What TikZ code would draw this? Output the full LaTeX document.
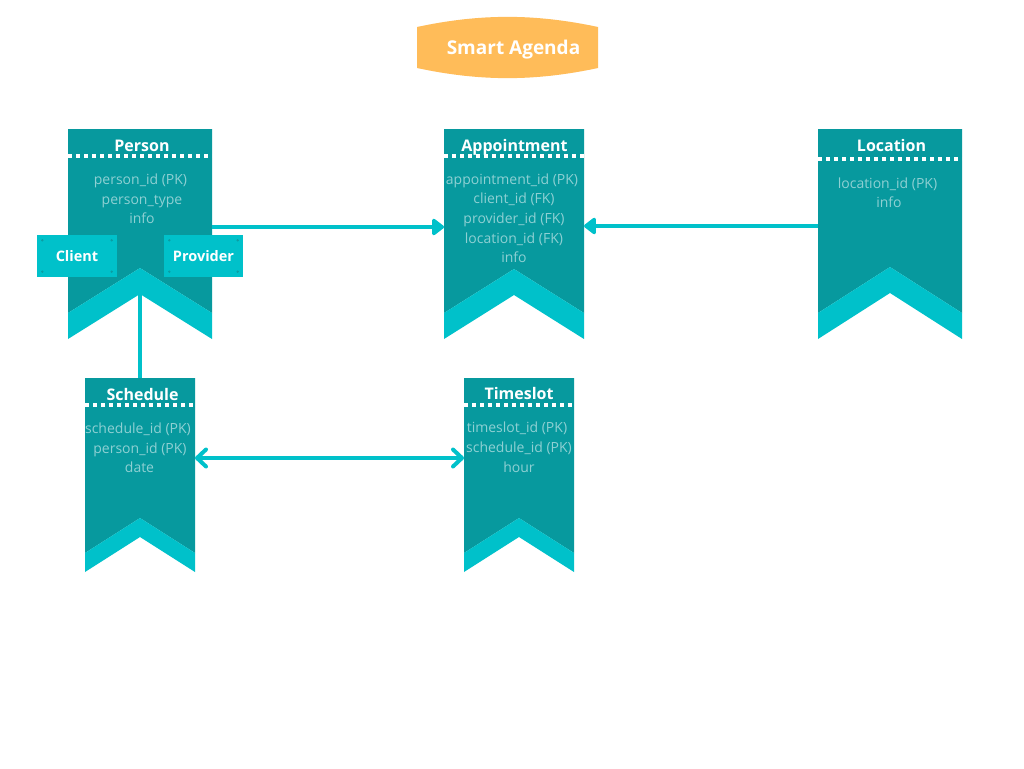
\documentclass[tikz,border=0pt]{standalone}
\usepackage{fontspec}
\setmainfont{Open Sans}
\usetikzlibrary{arrows.meta,calc}
\definecolor{ribdark}{HTML}{07999E}
\definecolor{riblight}{HTML}{00C1CA}
\definecolor{fieldtxt}{HTML}{8ED0D3}
\definecolor{titleorange}{HTML}{FFBC59}
\definecolor{boxdot}{HTML}{0B9DA3}
\newcommand\ribbonfill[3]{%
  \fill[ribdark] (#1.north west) -- (#1.north east) -- ([yshift=#2pt]#1.south east)
    -- ([yshift={(#2+#3)*1pt}]#1.south) -- ([yshift=#2pt]#1.south west) -- cycle;
  \fill[riblight] ([yshift=#2pt]#1.south west) -- ([yshift={(#2+#3)*1pt}]#1.south)
    -- ([yshift=#2pt]#1.south east) -- (#1.south east) -- ([yshift=#3pt]#1.south)
    -- (#1.south west) -- cycle;
}
\newcommand\dotrow[2]{%
  \draw[dotline] ([yshift=-#2pt]#1.north west) -- ([yshift=-#2pt]#1.north east);
}
\newcommand\boxdots[1]{%
  \fill[boxdot] ([shift={(5.5pt,-5.5pt)}]#1.north west) circle (1.3pt);
  \fill[boxdot] ([shift={(-5.5pt,-5.5pt)}]#1.north east) circle (1.3pt);
  \fill[boxdot] ([shift={(5.5pt,5.5pt)}]#1.south west) circle (1.3pt);
  \fill[boxdot] ([shift={(-5.5pt,5.5pt)}]#1.south east) circle (1.3pt);
}
\begin{document}
\begin{tikzpicture}[x=1pt,y=-1pt,
  ribbox/.style={draw=none,inner sep=0pt,outer sep=0pt,rectangle},
  ribtitle/.style={text=white,font=\fontsize{16}{18}\selectfont\bfseries,anchor=base,inner sep=0pt},
  field/.style={text=fieldtxt,font=\fontsize{14}{16}\selectfont,anchor=base,inner sep=0pt},
  dotline/.style={white,line width=4pt,dash pattern=on 4pt off 4pt},
  tagbox/.style={fill=riblight,minimum width=80pt,minimum height=42pt,inner sep=0pt,
    text=white,font=\fontsize{14.5}{16}\selectfont\bfseries},
  conn/.style={riblight,line width=4pt},
  tri/.style={-{Triangle[length=13pt,width=19pt,round]}},
  barbs/.style={{Straight Barb[length=9pt,width=17pt,round]}-{Straight Barb[length=9pt,width=17pt,round]}}
]
\useasboundingbox (0,0) rectangle (1024,768);
\fill[white] (0,0) rectangle (1024,768);

% title
\fill[titleorange] (417,27) .. controls (480,13.5) and (535,13.5) .. (598,27)
  -- (598,68) .. controls (535,81.5) and (480,81.5) .. (417,68) -- cycle;
\node[text=white,font=\fontsize{19}{21}\selectfont\bfseries,anchor=base,inner sep=0pt] (title) at (513.5,55) {Smart Agenda};

% ribbon frames
\node[ribbox,minimum width=144pt,minimum height=210pt] (person) at (140,234) {};
\node[ribbox,minimum width=140pt,minimum height=210pt] (appt) at (514,234) {};
\node[ribbox,minimum width=144pt,minimum height=210pt] (loc) at (890,234) {};
\node[ribbox,minimum width=110pt,minimum height=194pt] (sched) at (140,475) {};
\node[ribbox,minimum width=110pt,minimum height=194pt] (slot) at (519,475) {};

\ribbonfill{person}{26}{45}
\ribbonfill{appt}{26}{44}
\ribbonfill{loc}{26}{46}
\ribbonfill{sched}{19}{35}
\ribbonfill{slot}{19}{35}

\dotrow{person}{27}
\dotrow{appt}{27}
\dotrow{loc}{30}
\dotrow{sched}{27}
\dotrow{slot}{27}

% Person
\node[ribtitle] (personT) at (142,151.5) {Person};
\node[field] (p1) at (140.5,184) {person\_id (PK)};
\node[field] (p2) at (142,204) {person\_type};
\node[field] (p3) at (142,223) {info};
\node[tagbox] (client) at (77,256) {Client};
\node[tagbox,minimum width=79pt] (provider) at (203.5,256) {Provider};
\boxdots{client}
\boxdots{provider}

% Appointment
\node[ribtitle] (apptT) at (514.5,151.5) {Appointment};
\node[field] (a1) at (512,184) {appointment\_id (PK)};
\node[field] (a2) at (514,203.5) {client\_id (FK)};
\node[field] (a3) at (514,223) {provider\_id (FK)};
\node[field] (a4) at (514,243) {location\_id (FK)};
\node[field] (a5) at (514,262.5) {info};

% Location
\node[ribtitle] (locT) at (891.5,151.5) {Location};
\node[field] (l1) at (887.5,188) {location\_id (PK)};
\node[field] (l2) at (889,207.5) {info};

% Schedule
\node[ribtitle] (schedT) at (142.5,400) {Schedule};
\node[field] (s1) at (138,433) {schedule\_id (PK)};
\node[field] (s2) at (140,453) {person\_id (PK)};
\node[field] (s3) at (139.5,472.5) {date};

% Timeslot
\node[ribtitle] (slotT) at (519,399.5) {Timeslot};
\node[field] (t1) at (517,432.5) {timeslot\_id (PK)};
\node[field] (t2) at (519,452.5) {schedule\_id (PK)};
\node[field] (t3) at (519,472) {hour};

% connectors
\draw[conn,tri] ([yshift=7pt]person.east) -- ([yshift=7pt]appt.west);
\draw[conn,tri] ([yshift=8pt]loc.west) -- ([yshift=8pt]appt.east);
\draw[conn] ([yshift=45pt]person.south) -- (sched.north);
\draw[conn,barbs,line cap=round] ([yshift=17pt]sched.east) -- ([yshift=17pt]slot.west);
\end{tikzpicture}
\end{document}
